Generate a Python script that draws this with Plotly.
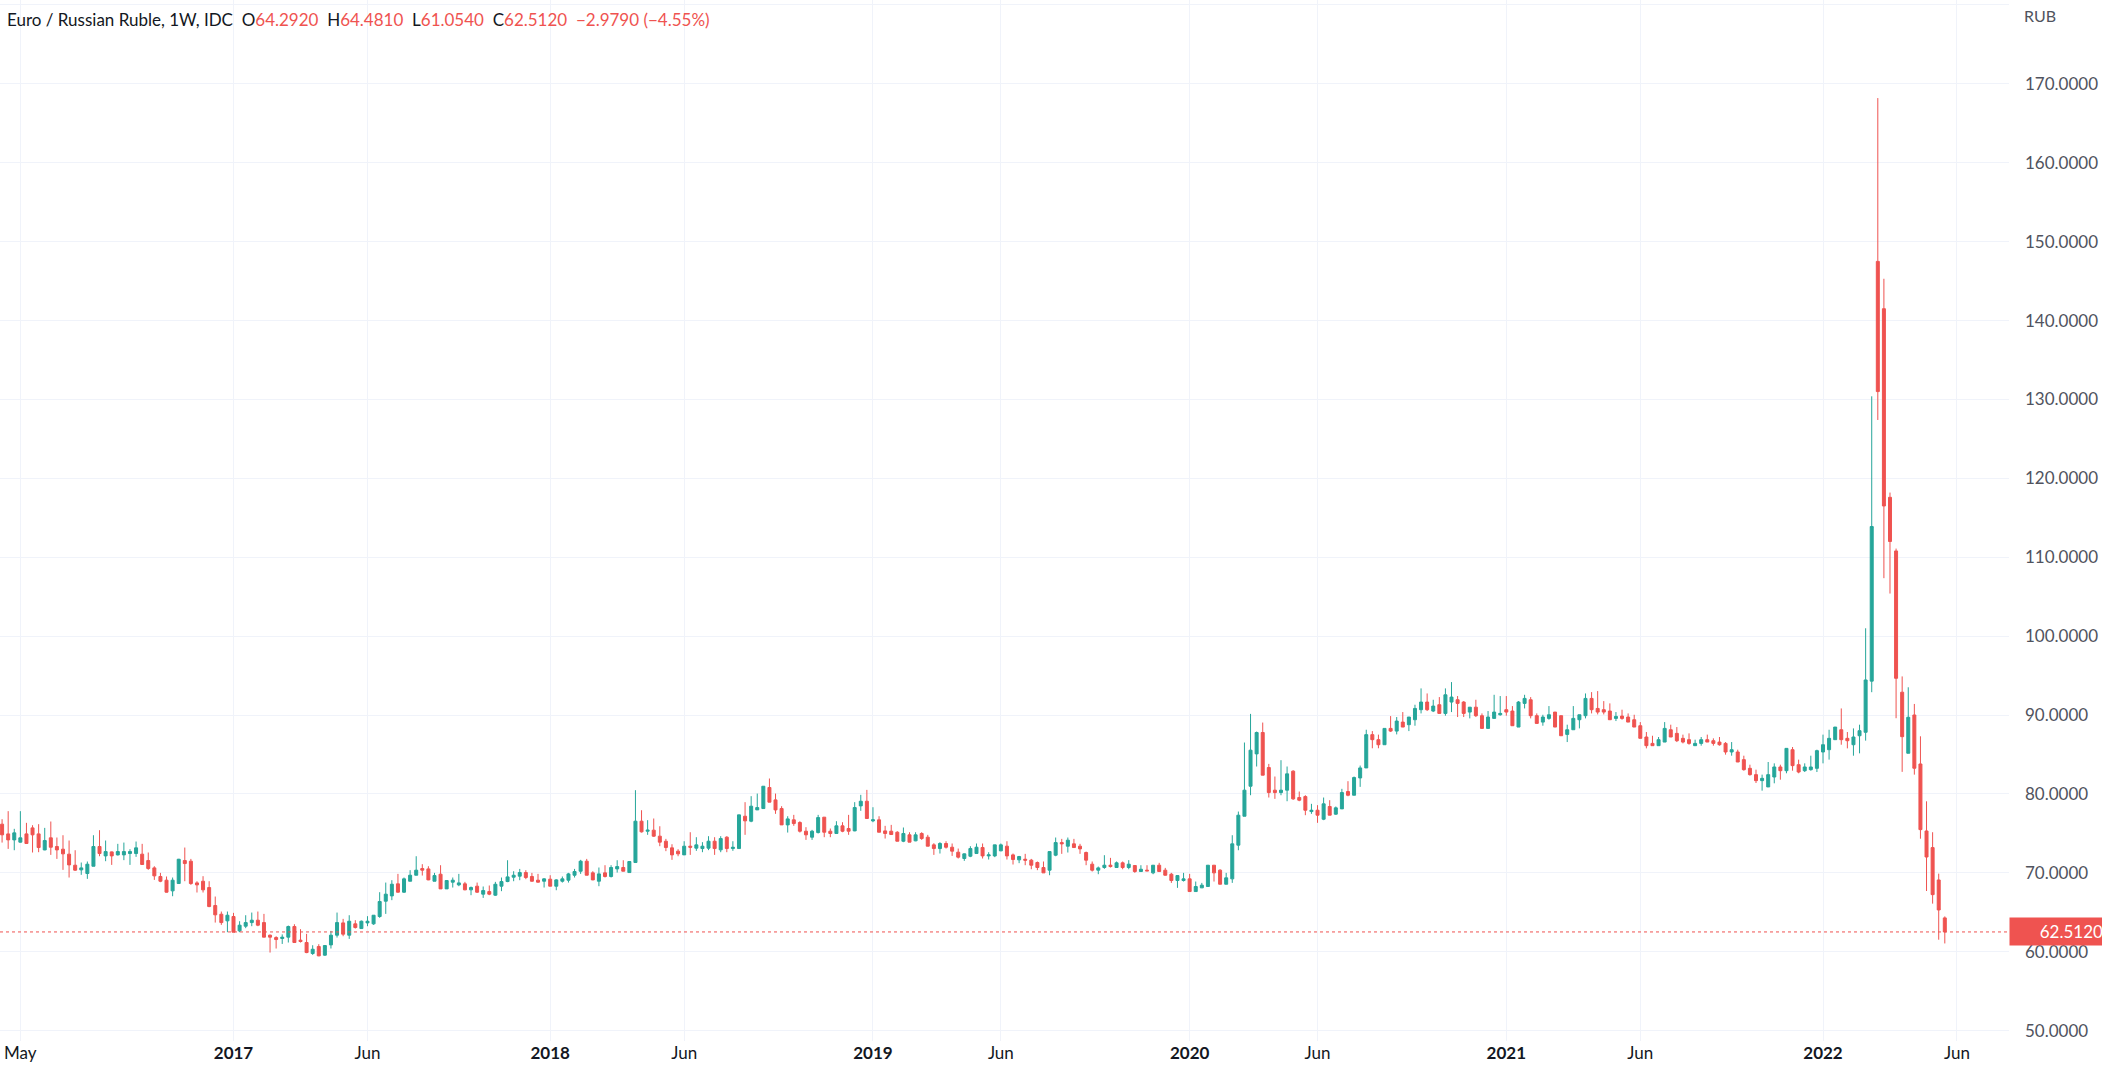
import pandas as pd
import plotly.graph_objects as go

# weekly EUR/RUB bars
opens = [
    76.17, 74.94, 74.18, 73.89, 74.94, 75.70, 74.94, 72.91, 74.44, 73.34,
    73.0, 72.37, 70.97, 70.38, 69.92, 70.84, 73.34, 72.15, 72.66, 72.28,
    72.28, 72.45, 72.45, 72.37, 71.56, 70.63, 69.54, 69.07, 67.72, 68.65,
    71.56, 71.48, 68.73, 68.94, 68.14, 65.86, 64.76, 63.92, 64.47, 62.65,
    63.24, 63.7, 64.0, 63.7, 62.1, 61.8, 61.68, 61.85, 63.2, 61.47,
    61.17, 59.78, 60.66, 59.57, 60.87, 62.1, 63.66, 62.1, 63.54, 62.94,
    63.66, 63.54, 64.47, 66.41, 67.08, 68.61, 67.55, 68.94, 69.7, 70.55,
    70.5, 68.94, 69.83, 67.97, 68.82, 68.48, 68.61, 67.85, 68.31, 67.3,
    67.63, 67.17, 68.31, 68.9, 69.45, 69.58, 70.04, 69.54, 69.07, 68.94,
    69.2, 68.31, 68.94, 69.07, 69.7, 70.21, 71.48, 70.0, 68.94, 70.0,
    69.54, 70.5, 70.68, 70.04, 71.31, 76.55, 75.28, 75.41, 74.65, 74.01,
    73.17, 72.75, 72.28, 73.38, 73.13, 73.08, 73.13, 74.01, 72.92, 74.52,
    73.08, 73.08, 77.18, 76.55, 77.98, 78.15, 80.82, 79.25, 78.15, 76.08,
    76.72, 76.38, 75.28, 74.52, 75.11, 77.06, 75.28, 74.99, 75.96, 75.62,
    75.32, 78.49, 79.08, 76.59, 76.72, 75.32, 75.28, 75.15, 74.01, 74.82,
    74.06, 74.99, 74.52, 73.55, 73.08, 73.72, 73.25, 72.62, 71.82, 72.11,
    72.45, 73.21, 72.15, 72.15, 72.79, 73.38, 72.28, 71.65, 71.73, 71.61,
    71.31, 70.68, 70.34, 72.24, 73.84, 73.38, 73.68, 73.38, 72.58, 71.1,
    70.34, 70.68, 70.97, 70.68, 71.27, 70.68, 70.93, 70.17, 70.34, 70.0,
    70.97, 70.34, 69.83, 69.03, 69.03, 69.24, 67.63, 68.1, 68.27, 70.97,
    70.34, 68.56, 69.24, 73.51, 77.18, 80.98, 85.08, 87.79, 83.35, 80.48,
    80.18, 80.48, 82.89, 79.55, 79.67, 77.77, 77.94, 76.8, 78.41, 77.44,
    78.11, 80.31, 79.84, 82.03, 83.3, 87.52, 86.88, 86.24, 88.31, 87.97,
    89.11, 88.78, 89.41, 90.68, 91.65, 90.51, 91.31, 90.21, 91.65, 91.94,
    91.65, 90.38, 91.0, 89.92, 88.31, 89.58, 90.04, 90.68, 90.51, 88.48,
    91.48, 91.94, 89.92, 89.11, 89.58, 90.38, 89.92, 87.55, 88.14, 89.41,
    89.92, 92.11, 90.84, 90.68, 90.51, 89.58, 89.87, 89.75, 89.41, 88.65,
    87.22, 86.41, 86.12, 86.58, 88.14, 87.68, 87.05, 86.88, 86.12, 86.41,
    86.88, 86.75, 86.58, 86.41, 85.32, 85.32, 84.35, 83.25, 82.45, 81.69,
    80.89, 82.15, 83.42, 82.95, 85.61, 83.71, 82.95, 83.08, 83.25, 85.32,
    85.61, 86.88, 88.14, 87.05, 86.24, 87.38, 87.82, 94.3, 147.5, 141.5,
    117.6, 110.8, 92.9, 85.16, 90.01, 83.8, 75.31, 73.2, 69.1, 64.292,
]
highs = [
    76.80, 77.82, 75.58, 77.82, 76.34, 76.04, 76.17, 75.70, 76.51, 74.48,
    74.77, 74.10, 72.87, 71.31, 71.44, 74.77, 75.41, 74.10, 72.70, 73.68,
    73.84, 73.0, 73.97, 73.68, 72.58, 70.84, 70.0, 69.54, 69.41, 71.77,
    73.21, 71.77, 68.94, 69.58, 68.94, 67.0, 65.1, 65.1, 64.93, 63.87,
    64.63, 64.97, 65.1, 64.8, 62.18, 61.97, 62.2, 63.32, 63.49, 62.86,
    62.27, 60.83, 60.96, 60.83, 62.65, 64.97, 64.17, 64.63, 64.0, 63.96,
    64.51, 64.63, 67.55, 68.77, 69.07, 69.87, 69.41, 70.34, 72.11, 71.1,
    70.84, 70.0, 70.97, 69.07, 69.41, 69.87, 68.86, 68.27, 68.77, 68.27,
    68.4, 68.86, 69.41, 71.6, 70.21, 70.5, 70.34, 70.0, 69.87, 69.32,
    69.7, 69.2, 69.54, 70.0, 70.5, 71.65, 71.77, 70.21, 70.68, 70.97,
    70.97, 71.6, 71.6, 71.48, 80.48, 77.94, 76.68, 76.89, 75.91, 74.31,
    73.63, 73.0, 74.01, 75.15, 74.52, 73.89, 74.65, 74.52, 74.65, 74.65,
    74.01, 77.35, 78.96, 79.72, 80.05, 80.98, 81.96, 80.05, 78.45, 77.18,
    77.35, 76.55, 75.79, 75.45, 77.35, 77.06, 75.62, 76.55, 76.42, 77.35,
    78.96, 79.89, 80.52, 78.32, 77.18, 75.96, 76.08, 75.28, 75.75, 75.15,
    75.15, 75.15, 74.82, 73.76, 73.89, 74.01, 73.72, 73.08, 72.45, 73.38,
    73.72, 73.72, 72.62, 73.55, 73.72, 74.01, 72.45, 72.15, 72.41, 71.77,
    71.44, 71.44, 72.7, 74.48, 74.31, 74.48, 74.31, 73.68, 72.7, 71.44,
    70.8, 72.24, 71.9, 71.44, 71.44, 71.61, 70.97, 70.97, 70.97, 70.97,
    71.27, 70.63, 70.0, 69.7, 70.0, 69.87, 68.9, 68.73, 70.97, 70.97,
    70.46, 70.0, 74.77, 77.77, 86.52, 90.15, 87.91, 89.05, 83.81, 82.21,
    84.28, 83.48, 83.01, 80.31, 79.84, 78.75, 78.58, 79.55, 79.21, 78.41,
    80.65, 81.62, 82.21, 83.6, 88.14, 87.97, 87.52, 88.31, 89.87, 89.75,
    90.38, 89.75, 91.31, 93.38, 92.74, 91.94, 92.28, 93.38, 94.18, 92.41,
    91.77, 91.0, 91.94, 90.21, 90.51, 92.57, 92.41, 92.41, 91.14, 91.77,
    92.57, 92.28, 90.21, 90.04, 91.14, 90.38, 89.92, 88.78, 91.14, 90.04,
    92.74, 92.91, 93.04, 91.77, 91.48, 90.38, 90.68, 90.21, 90.04, 89.11,
    87.85, 87.38, 87.22, 89.11, 88.78, 88.48, 87.52, 87.68, 86.88, 87.22,
    87.52, 87.05, 87.22, 86.58, 86.58, 85.61, 84.85, 83.71, 83.08, 82.45,
    84.05, 83.88, 83.71, 85.78, 85.95, 84.35, 83.88, 84.85, 85.61, 87.52,
    88.14, 88.48, 90.84, 87.85, 88.31, 88.78, 101.0, 130.4, 168.2, 145.3,
    118.2, 111.1, 94.9, 93.52, 91.41, 87.31, 79.07, 75.15, 69.9, 64.481,
]
lows = [
    73.84, 73.04, 72.87, 73.84, 73.68, 72.58, 72.62, 72.87, 72.28, 71.77,
    70.38, 69.41, 70.25, 69.75, 69.24, 70.84, 72.11, 71.48, 71.01, 72.20,
    71.61, 71.01, 72.03, 71.01, 70.38, 69.11, 68.82, 67.51, 67.04, 68.65,
    68.94, 68.48, 67.51, 67.51, 65.65, 63.7, 63.41, 62.48, 62.48, 62.48,
    62.99, 63.24, 63.24, 61.85, 59.9, 60.41, 60.99, 61.17, 61.17, 61.17,
    59.82, 59.6, 59.44, 59.48, 60.41, 61.8, 61.97, 61.63, 62.94, 62.9,
    63.24, 63.41, 64.3, 64.8, 66.54, 67.5, 67.46, 68.94, 69.7, 69.66,
    69.07, 68.94, 67.97, 67.97, 68.14, 68.31, 67.8, 67.17, 67.46, 66.83,
    67.17, 67.08, 67.68, 68.82, 68.94, 69.07, 69.2, 68.9, 68.77, 68.14,
    68.31, 67.8, 68.77, 68.77, 69.41, 69.87, 69.7, 69.07, 68.31, 69.41,
    69.41, 70.04, 70.21, 70.04, 71.31, 75.11, 74.82, 74.56, 73.38, 72.75,
    71.65, 72.11, 72.28, 72.28, 72.79, 72.62, 72.88, 72.28, 72.62, 72.62,
    72.79, 73.08, 74.82, 76.42, 77.98, 78.15, 78.96, 77.48, 76.08, 75.11,
    75.96, 75.11, 74.18, 74.18, 74.99, 74.52, 74.52, 74.99, 75.15, 74.82,
    75.28, 77.86, 76.89, 76.42, 75.15, 74.35, 74.86, 74.01, 73.89, 73.89,
    74.01, 74.18, 73.38, 72.28, 72.45, 73.08, 72.15, 71.82, 71.52, 71.99,
    72.45, 71.82, 71.69, 71.99, 72.75, 71.69, 71.06, 71.23, 70.97, 70.46,
    70.34, 70.0, 69.7, 72.11, 72.41, 72.58, 73.21, 72.41, 70.97, 70.17,
    69.83, 70.51, 70.68, 70.68, 70.46, 70.46, 70.0, 70.17, 70.25, 69.83,
    70.17, 69.66, 68.73, 68.1, 68.9, 67.63, 67.63, 68.1, 68.27, 68.9,
    68.56, 68.56, 68.73, 72.87, 77.18, 79.84, 83.48, 82.38, 79.55, 79.38,
    79.84, 79.08, 79.25, 79.08, 77.31, 77.48, 76.34, 76.68, 77.31, 77.35,
    78.11, 79.71, 79.84, 80.9, 83.3, 85.79, 85.79, 86.24, 87.85, 87.55,
    88.48, 87.97, 88.65, 90.21, 90.51, 90.38, 90.21, 89.92, 90.38, 89.75,
    89.75, 89.58, 89.75, 88.31, 88.31, 89.58, 89.92, 89.92, 88.65, 88.48,
    90.84, 89.58, 88.94, 88.65, 89.41, 88.48, 87.38, 86.58, 88.14, 88.31,
    89.58, 90.21, 90.08, 90.08, 89.41, 89.24, 89.41, 89.11, 88.48, 87.05,
    85.78, 86.12, 86.12, 86.58, 87.22, 86.58, 86.41, 86.24, 86.12, 86.12,
    86.58, 86.12, 86.12, 84.98, 84.85, 84.05, 82.95, 82.32, 81.39, 80.42,
    80.89, 81.35, 81.81, 82.62, 82.95, 82.62, 82.78, 82.95, 82.78, 83.88,
    84.35, 86.88, 86.24, 85.78, 84.85, 85.15, 86.76, 92.9, 127.4, 107.35,
    105.4, 89.6, 82.8, 85.16, 82.45, 74.33, 67.7, 66.1, 61.53, 61.054,
]
closes = [
    74.82, 74.18, 75.07, 74.44, 73.72, 74.82, 73.21, 74.10, 73.25, 72.91,
    72.41, 71.01, 70.34, 70.63, 71.10, 73.34, 72.45, 72.70, 72.15, 72.70,
    72.70, 72.70, 73.17, 71.06, 70.55, 69.62, 68.94, 67.55, 69.07, 71.73,
    71.18, 68.65, 68.48, 67.85, 65.73, 64.68, 63.7, 64.63, 62.48, 63.37,
    63.7, 64.0, 63.37, 61.85, 61.85, 61.55, 61.85, 63.2, 61.17, 61.3,
    59.9, 60.32, 59.48, 60.79, 62.1, 63.7, 62.23, 63.87, 63.07, 63.87,
    63.87, 64.63, 66.37, 67.3, 68.56, 67.55, 69.24, 69.7, 70.34, 70.34,
    69.11, 69.66, 67.97, 69.03, 69.07, 68.73, 67.85, 68.14, 67.55, 67.76,
    67.3, 68.56, 68.9, 69.49, 69.7, 70.04, 69.41, 68.94, 68.82, 69.24,
    68.31, 69.11, 69.24, 69.87, 70.17, 71.48, 69.7, 69.11, 69.87, 69.54,
    70.68, 70.8, 70.21, 71.44, 76.55, 75.2, 75.41, 74.65, 73.89, 73.21,
    72.28, 72.41, 73.38, 73.25, 73.55, 73.38, 74.01, 73.08, 74.35, 73.08,
    73.25, 77.35, 76.59, 78.45, 78.28, 80.98, 78.96, 77.98, 76.08, 76.84,
    76.25, 75.28, 74.82, 75.28, 77.01, 75.15, 74.99, 75.96, 75.28, 75.28,
    78.28, 79.08, 76.89, 76.72, 75.15, 74.99, 74.86, 74.01, 74.99, 73.89,
    74.82, 74.35, 73.38, 73.08, 73.72, 73.25, 72.75, 71.99, 72.41, 73.08,
    73.25, 72.15, 72.28, 73.55, 73.55, 72.15, 71.69, 72.07, 71.61, 70.97,
    70.68, 70.0, 72.7, 73.84, 73.68, 74.14, 73.21, 73.04, 71.61, 70.34,
    70.63, 70.97, 70.8, 71.27, 70.68, 71.1, 70.17, 70.46, 70.25, 70.97,
    70.17, 69.7, 69.03, 69.66, 69.24, 67.63, 68.27, 68.44, 70.97, 70.0,
    68.56, 69.37, 73.68, 77.31, 80.48, 85.55, 87.79, 82.38, 80.18, 80.18,
    80.48, 82.55, 79.38, 79.21, 77.94, 77.94, 77.31, 78.75, 77.31, 78.24,
    80.18, 79.84, 82.08, 83.3, 87.52, 86.88, 86.24, 88.31, 87.97, 89.24,
    88.48, 89.75, 90.84, 91.65, 90.68, 91.14, 90.21, 92.57, 92.28, 91.48,
    90.21, 91.0, 89.92, 88.31, 89.75, 90.38, 90.21, 90.38, 88.65, 91.65,
    92.11, 89.92, 88.94, 89.75, 90.04, 88.48, 87.38, 88.14, 89.58, 90.04,
    92.11, 90.68, 90.38, 90.38, 89.41, 89.83, 89.58, 89.11, 88.48, 87.05,
    86.12, 86.12, 86.88, 88.31, 87.22, 86.75, 86.58, 86.41, 86.41, 86.88,
    86.58, 86.41, 86.24, 85.32, 85.61, 84.05, 83.08, 82.45, 81.69, 81.98,
    82.45, 83.42, 82.95, 85.78, 83.59, 82.78, 83.42, 83.42, 85.49, 86.24,
    87.05, 88.48, 86.88, 86.75, 87.22, 88.02, 94.45, 113.9, 131.0, 116.5,
    112.0, 94.66, 87.26, 89.72, 83.26, 75.48, 72.01, 67.24, 65.3, 62.512,
]
weeks = pd.date_range("2016-04-11", periods=len(opens), freq="7D")

x_tick_dates = ["2016-05-02", "2017-01-02", "2017-06-05", "2018-01-01", "2018-06-04",
                "2019-01-07", "2019-06-03", "2020-01-06", "2020-06-01", "2021-01-04",
                "2021-06-07", "2022-01-03", "2022-06-06"]
x_tick_labels = ["May", "<b>2017</b>", "Jun", "<b>2018</b>", "Jun", "<b>2019</b>", "Jun",
                 "<b>2020</b>", "Jun", "<b>2021</b>", "Jun", "<b>2022</b>", "Jun"]
y_ticks = [50, 60, 70, 80, 90, 100, 110, 120, 130, 140, 150, 160, 170, 180]
y_labels = [f"{v:.4f}" for v in y_ticks[:-1]] + [""]
last_close = closes[-1]

UP = "#26a69a"
DOWN = "#ef5350"
FONT = "Lato"

fig = go.Figure(go.Candlestick(
    x=weeks, open=opens, high=highs, low=lows, close=closes,
    increasing=dict(line=dict(color=UP, width=1), fillcolor=UP),
    decreasing=dict(line=dict(color=DOWN, width=1), fillcolor=DOWN),
    whiskerwidth=0,
    showlegend=False,
))

red = lambda s: f'<span style="color:{DOWN}">{s}</span>'
header = ("Euro / Russian Ruble, 1W, IDC &nbsp;O" + red("64.2920")
          + " &nbsp;H" + red("64.4810") + " &nbsp;L" + red("61.0540")
          + " &nbsp;C" + red("62.5120") + " &nbsp;" + red("−2.9790 (−4.55%)"))

fig.update_layout(
    width=2102, height=1083,
    margin=dict(l=0, r=93, t=0, b=42),
    paper_bgcolor="white", plot_bgcolor="white",
    font=dict(family=FONT, size=17, color="#50535e"),
    boxgap=0.3,
    xaxis=dict(
        type="date",
        range=["2016-04-08 14:24", "2022-08-04 19:00"],
        rangeslider=dict(visible=False),
        tickmode="array", tickvals=x_tick_dates, ticktext=x_tick_labels,
        tickangle=0,
        showgrid=True, gridcolor="#f0f3fa", gridwidth=1,
        zeroline=False, showline=False, ticks="",
        tickfont=dict(family=FONT, size=17, color="#131722"),
    ),
    yaxis=dict(
        side="right",
        range=[48.69, 180.63],
        tickmode="array", tickvals=y_ticks, ticktext=y_labels,
        showgrid=True, gridcolor="#f0f3fa", gridwidth=1,
        zeroline=False, showline=False, ticks="",
        ticklabelstandoff=15,
        tickfont=dict(family=FONT, size=17, color="#50535e"),
    ),
    shapes=[dict(type="line", xref="paper", x0=0, x1=1, yref="y", y0=last_close, y1=last_close,
                 line=dict(color=DOWN, width=1, dash="dot"))],
    annotations=[
        dict(text=header, xref="paper", yref="paper", x=0, y=1, xanchor="left", yanchor="top",
             xshift=5, yshift=-7, showarrow=False, align="left",
             font=dict(family=FONT, size=17, color="#131722")),
        dict(text="RUB", xref="paper", yref="paper", x=1, y=1, xanchor="left", yanchor="top",
             xshift=13, yshift=-4, showarrow=False,
             font=dict(family=FONT, size=16, color="#50535e")),
        dict(text=f"{last_close:.4f}", xref="paper", yref="y", x=1, y=last_close,
             xanchor="left", yanchor="middle", showarrow=False,
             width=93, height=27, align="right", bgcolor=DOWN, borderpad=0,
             font=dict(family=FONT, size=17, color="white")),
    ],
)

fig.write_html("out.html", config=dict(displayModeBar=False),
               post_script="document.body.style.margin='0';")
